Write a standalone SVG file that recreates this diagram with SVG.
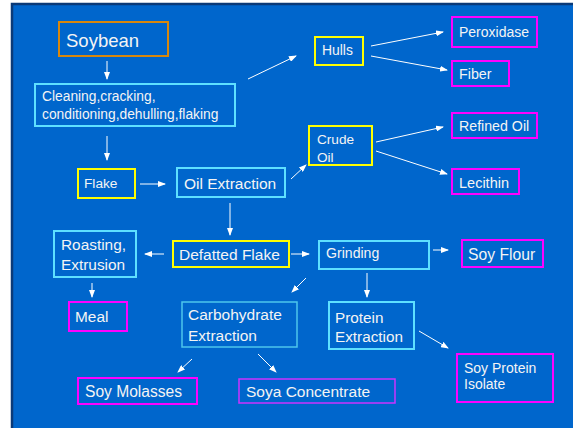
<svg xmlns="http://www.w3.org/2000/svg" width="573" height="428" viewBox="0 0 573 428">
<defs>
<marker id="ah" markerWidth="8" markerHeight="6" refX="7" refY="3" orient="auto" markerUnits="userSpaceOnUse">
<path d="M0,0 L8,3 L0,6 Z" fill="#ffffff"/>
</marker>
<style>
.bx{fill:none;stroke-width:2}
.or{stroke:#d8870c}
.cy{stroke:#5ee0ff}
.cy2{stroke:#4cc6ec;stroke-width:1.5}
.ye{stroke:#ffff00}
.mg{stroke:#ff00ff}
.pu{stroke:#cc33ff;stroke-width:1.5}
text{font-family:"Liberation Sans",Arial,sans-serif;fill:#f4f4f4}
.c line{stroke:#ffffff;stroke-width:1;marker-end:url(#ah)}
</style>
</defs>
<rect x="0" y="0" width="573" height="428" fill="#ffffff"/>
<rect x="12" y="4" width="570" height="430" fill="#0066cc" stroke="#0a3a78" stroke-width="2.5"/>

<g id="soybean"><rect class="bx or" x="59" y="22" width="109" height="34"/><text x="66" y="47" font-size="18.5">Soybean</text></g>
<g id="cleaning"><rect class="bx cy" x="35" y="84" width="200" height="42"/><text x="42" y="101" font-size="13.8">Cleaning,cracking,</text><text x="42" y="119" font-size="13.8">conditioning,dehulling,flaking</text></g>
<g id="flake"><rect class="bx ye" x="78" y="169" width="57" height="29"/><text x="84" y="188" font-size="13.7">Flake</text></g>
<g id="oilext"><rect class="bx cy" x="177" y="168" width="108" height="29"/><text x="184" y="189" font-size="15.5">Oil Extraction</text></g>
<g id="crudeoil"><rect class="bx ye" x="309" y="126" width="63" height="39"/><text x="317" y="144" font-size="13.6">Crude</text><text x="317" y="162" font-size="13.6">Oil</text></g>
<g id="hulls"><rect class="bx ye" x="315" y="37" width="48" height="28"/><text x="322" y="55" font-size="13.9">Hulls</text></g>
<g id="peroxidase"><rect class="bx mg" x="452" y="17" width="85" height="30"/><text x="459" y="37" font-size="14">Peroxidase</text></g>
<g id="fiber"><rect class="bx mg" x="452" y="61" width="57" height="25"/><text x="459" y="79" font-size="14.3">Fiber</text></g>
<g id="refinedoil"><rect class="bx mg" x="452" y="113" width="85" height="25"/><text x="459" y="131" font-size="14.2">Refined Oil</text></g>
<g id="lecithin"><rect class="bx mg" x="452" y="169" width="67" height="25"/><text x="459" y="188" font-size="14.5">Lecithin</text></g>
<g id="defatted"><rect class="bx ye" x="173" y="241" width="116" height="26"/><text x="179" y="260" font-size="15.5">Defatted Flake</text></g>
<g id="roasting"><rect class="bx cy" x="54" y="231" width="82" height="46"/><text x="61" y="250" font-size="15.4">Roasting,</text><text x="61" y="270" font-size="15.4">Extrusion</text></g>
<g id="meal"><rect class="bx mg" x="69" y="302" width="58" height="29"/><text x="75" y="322" font-size="15.4">Meal</text></g>
<g id="grinding"><rect class="bx cy" x="319" y="241" width="110" height="28"/><text x="326" y="258" font-size="14.1">Grinding</text></g>
<g id="soyflour"><rect class="bx mg" x="462" y="240" width="81" height="27"/><text x="468" y="260" font-size="15.7">Soy Flour</text></g>
<g id="carbo"><rect class="bx cy2" x="182" y="302" width="115" height="45"/><text x="188" y="320" font-size="15.5">Carbohydrate</text><text x="188" y="341" font-size="15.5">Extraction</text></g>
<g id="protein"><rect class="bx cy" x="329" y="302" width="85" height="47"/><text x="335" y="323" font-size="15.3">Protein</text><text x="335" y="342" font-size="15.3">Extraction</text></g>
<g id="isolate"><rect class="bx mg" x="457" y="354" width="96" height="48"/><text x="464" y="373" font-size="14">Soy Protein</text><text x="464" y="389" font-size="14">Isolate</text></g>
<g id="molasses"><rect class="bx mg" x="78" y="378" width="119" height="26"/><text x="85" y="397" font-size="15.6">Soy Molasses</text></g>
<g id="concentrate"><rect class="bx pu" x="239" y="379" width="156" height="24"/><text x="246" y="397" font-size="15.5">Soya Concentrate</text></g>

<g id="connectors" class="c">
<line x1="107" y1="61" x2="107" y2="79"/>
<line x1="107" y1="136" x2="107" y2="160"/>
<line x1="140" y1="184" x2="165" y2="184"/>
<line x1="291" y1="179" x2="306" y2="165"/>
<line x1="230" y1="203" x2="230" y2="235"/>
<line x1="248" y1="79" x2="296" y2="56"/>
<line x1="371" y1="46" x2="443" y2="32"/>
<line x1="371" y1="56" x2="447" y2="70"/>
<line x1="376" y1="142" x2="443" y2="127"/>
<line x1="376" y1="151" x2="447" y2="174"/>
<line x1="164" y1="254" x2="145" y2="254"/>
<line x1="92" y1="283" x2="92" y2="297"/>
<line x1="291" y1="254" x2="309" y2="254"/>
<line x1="433" y1="250" x2="448" y2="250"/>
<line x1="367" y1="273" x2="367" y2="297"/>
<line x1="306" y1="278" x2="292" y2="292"/>
<line x1="419" y1="331" x2="448" y2="348"/>
<line x1="192" y1="359" x2="178" y2="372"/>
<line x1="258" y1="354" x2="276" y2="372"/>
</g>
</svg>
